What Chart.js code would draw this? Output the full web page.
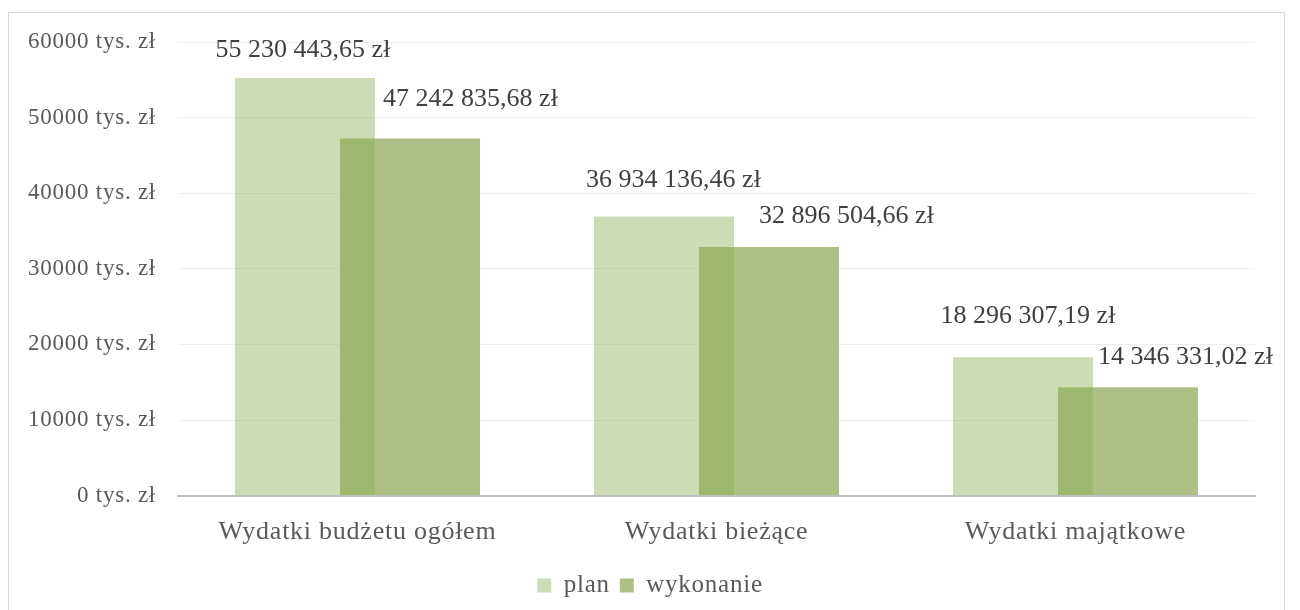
<!DOCTYPE html>
<html>
<head>
<meta charset="utf-8">
<script src="https://cdn.jsdelivr.net/npm/chart.js@4.4.1/dist/chart.umd.min.js"></script>
<style>
  html, body { margin: 0; padding: 0; background: #ffffff; }
  #wrap { width: 1300px; height: 610px; position: relative; }
</style>
</head>
<body>
<div id="wrap"><canvas id="c" width="1300" height="610"></canvas></div>
<script>
// ---- data ----
const categories = ['Wydatki budżetu ogółem', 'Wydatki bieżące', 'Wydatki majątkowe'];
const planValues = [55230443.65, 36934136.46, 18296307.19];        // zł
const wykonanieValues = [47242835.68, 32896504.66, 14346331.02];   // zł
const seriesNames = ['plan', 'wykonanie'];
const yTicks = [0, 10000, 20000, 30000, 40000, 50000, 60000];       // tys. zł
const yUnit = ' tys. zł';

function formatZl(v) {
  const parts = v.toFixed(2).split('.');
  const intPart = parts[0].replace(/\B(?=(\d{3})+(?!\d))/g, ' ');
  return intPart + ',' + parts[1] + ' zł';
}

// label placement tweaks (offsets relative to bar centre/top), per dataset
const labelOffsets = [
  [{dx: -2, dy: -21}, {dx: 9.5, dy: -29}, {dx: 5, dy: -34}],
  [{dx: 60.5, dy: -32}, {dx: 77.5, dy: -24}, {dx: 57.5, dy: -23}]
];

const SPACING = '0.75px';

const spacingPlugin = {
  id: 'spacing',
  beforeUpdate(chart) { chart.ctx.letterSpacing = SPACING; },
  beforeDraw(chart) {
    const ctx = chart.ctx;
    ctx.letterSpacing = SPACING;
    ctx.save();
    ctx.strokeStyle = '#d9d9d9';
    ctx.lineWidth = 1;
    ctx.strokeRect(8.5, 12.5, 1276, 700);
    ctx.restore();
  }
};

const dataLabelPlugin = {
  id: 'dataLabels',
  afterDatasetsDraw(chart) {
    const ctx = chart.ctx;
    ctx.save();
    ctx.letterSpacing = '0px';
    ctx.font = '26px "Liberation Serif", "Times New Roman", serif';
    ctx.fillStyle = '#404040';
    ctx.textAlign = 'center';
    ctx.textBaseline = 'alphabetic';
    const raw = [planValues, wykonanieValues];
    chart.data.datasets.forEach((ds, di) => {
      const meta = chart.getDatasetMeta(di);
      meta.data.forEach((bar, i) => {
        const off = labelOffsets[di][i];
        ctx.fillText(formatZl(raw[di][i]), bar.x + off.dx, bar.y + off.dy);
      });
    });
    ctx.restore();
  }
};

const ctx = document.getElementById('c').getContext('2d');
new Chart(ctx, {
  type: 'bar',
  data: {
    labels: categories,
    datasets: [
      {
        label: seriesNames[0],
        data: planValues.map(v => v / 1000),
        backgroundColor: 'rgba(139,173,83,0.43)',
        borderWidth: 0,
        categoryPercentage: 0.585,
        barPercentage: 1.333
      },
      {
        label: seriesNames[1],
        data: wykonanieValues.map(v => v / 1000),
        backgroundColor: 'rgb(173,191,132)',
        borderWidth: 0,
        categoryPercentage: 0.585,
        barPercentage: 1.333
      }
    ]
  },
  options: {
    responsive: false,
    animation: false,
    devicePixelRatio: 1,
    layout: { padding: { left: 0, right: 0, top: 42, bottom: 2 } },
    plugins: {
      legend: {
        position: 'bottom',
        labels: {
          boxWidth: 14,
          boxHeight: 14,
          padding: 10,
          color: '#595959',
          font: { family: '"Liberation Serif", "Times New Roman", serif', size: 25 }
        }
      },
      tooltip: { enabled: false }
    },
    scales: {
      x: {
        grid: { display: false, drawTicks: false },
        border: { display: true, color: '#bfbfbf', width: 2 },
        ticks: {
          color: '#595959',
          padding: 21,
          font: { family: '"Liberation Serif", "Times New Roman", serif', size: 26 }
        },
        afterFit(scale) { scale.height = 67.4; }
      },
      y: {
        min: yTicks[0],
        max: yTicks[yTicks.length - 1],
        afterBuildTicks(scale) { scale.ticks = yTicks.map(v => ({ value: v })); },
        grid: { color: '#eeeeee', lineWidth: 1, drawTicks: false },
        border: { display: false },
        ticks: {
          color: '#595959',
          padding: 22,
          font: { family: '"Liberation Serif", "Times New Roman", serif', size: 23 },
          callback: (v) => v + yUnit
        },
        afterFit(scale) { scale.width = 178; }
      },
      yRight: {
        position: 'right',
        display: true,
        grid: { display: false, drawTicks: false },
        border: { display: false },
        ticks: { display: false },
        afterFit(scale) { scale.width = 45; }
      }
    }
  },
  plugins: [spacingPlugin, dataLabelPlugin]
});
</script>
</body>
</html>
